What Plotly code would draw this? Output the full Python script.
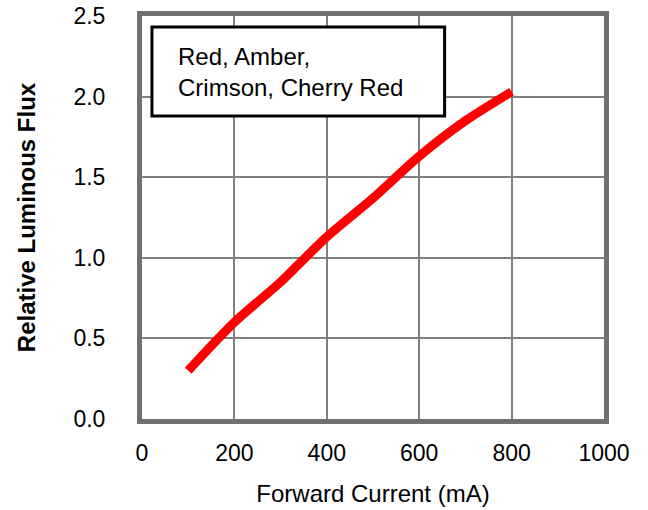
import plotly.graph_objects as go

current_ma = [100, 200, 300, 400, 500, 600, 700, 800]
rel_flux = [0.30, 0.60, 0.85, 1.13, 1.37, 1.63, 1.85, 2.03]
x_ticks = [0, 200, 400, 600, 800, 1000]
y_ticks = [0.0, 0.5, 1.0, 1.5, 2.0, 2.5]
box_text = "Red, Amber,<br>Crimson, Cherry Red"

FONT = "Liberation Sans, Arial, sans-serif"

fig = go.Figure()
fig.add_trace(go.Scatter(
    x=current_ma, y=rel_flux, mode="lines",
    line=dict(color="#ff0000", width=9, shape="spline", smoothing=0.8),
    showlegend=False, hoverinfo="skip",
))

fig.update_layout(
    width=648, height=510,
    margin=dict(l=142, r=44, t=16, b=91),
    paper_bgcolor="white", plot_bgcolor="white",
    font=dict(family=FONT, color="black", size=23),
    showlegend=False,
)
fig.update_xaxes(
    range=[0, 1000], tickvals=x_ticks, ticktext=[str(v) for v in x_ticks],
    showgrid=True, gridcolor="#808080", gridwidth=1.5,
    showline=True, mirror=True, linecolor="#707070", linewidth=5,
    zeroline=False, ticks="", ticklabelstandoff=9, automargin=False,
    ticklabeloverflow="allow",
    tickfont=dict(size=23, color="black"),
    title=dict(text="Forward Current (mA)", font=dict(size=24, color="black"), standoff=22),
)
fig.update_yaxes(
    range=[0, 2.5], tickvals=y_ticks, ticktext=[f"{v:.1f}" for v in y_ticks],
    showgrid=True, gridcolor="#808080", gridwidth=1.5,
    showline=True, mirror=True, linecolor="#707070", linewidth=5,
    zeroline=False, ticks="", ticklabelstandoff=27, automargin=False,
    ticklabeloverflow="allow",
    tickfont=dict(size=23, color="black"),
    title=dict(text="<b>Relative Luminous Flux</b>", font=dict(size=24, color="black"), standoff=33),
)

fig.add_shape(type="rect", xref="x", yref="y", x0=21.6, x1=655, y0=1.880, y1=2.432,
              line=dict(color="black", width=3), fillcolor="white", layer="above")
fig.add_annotation(x=73.5, y=2.150, xref="x", yref="y", text=box_text, showarrow=False,
                   xanchor="left", yanchor="middle", align="left",
                   font=dict(family=FONT, size=24, color="black"))

# remove the default 8px page margin so the figure fills the 648x510 window exactly
fig.write_html("out.html", config={"displayModeBar": False},
               post_script="document.body.style.margin='0';")
